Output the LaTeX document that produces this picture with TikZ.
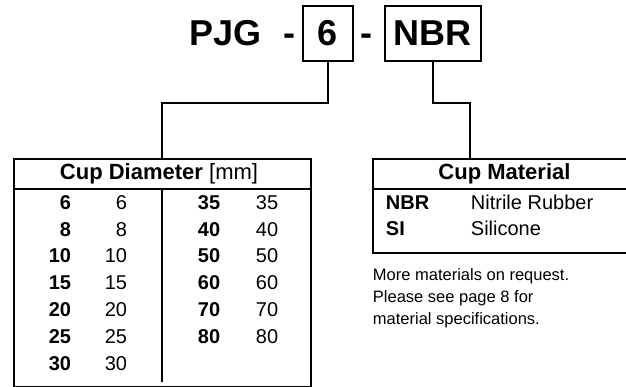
\documentclass[tikz,border=0pt]{standalone}
\usepackage{fontspec}
\setmainfont{Liberation Sans}
\begin{document}
\begin{tikzpicture}[x=1pt,y=-1pt,line width=1.9pt,
  ttl/.style={font=\fontsize{36}{40}\selectfont\bfseries,inner sep=0},
  hdr/.style={font=\fontsize{22}{26}\selectfont\bfseries,anchor=base,inner sep=0},
  bd/.style={font=\fontsize{20}{24}\selectfont\bfseries,inner sep=0},
  rg/.style={font=\fontsize{20}{24}\selectfont,inner sep=0},
  note/.style={font=\fontsize{16.5}{22}\selectfont,anchor=base west,inner sep=0},
  codebox/.style={draw,line width=1.9pt,inner sep=0,anchor=north west,minimum height=55pt,font=\fontsize{36}{40}\selectfont\bfseries},
  frame/.style={draw,line width=1.9pt,inner sep=0,anchor=north west}]
\useasboundingbox (0,0) rectangle (626,387);
% title
\node[ttl,anchor=base west] (pjg) at (188.3,46) {PJG};
\node[ttl,anchor=base] (d1) at (289,46) {-};
\node[ttl,anchor=base] (d2) at (366.5,46) {-};
\node[codebox,minimum width=50pt] (b6) at (301.7,5) {6};
\node[codebox,minimum width=96pt] (bN) at (384,5) {NBR};
% tables
\node[frame,minimum width=297.3pt,minimum height=227.6pt] (tabL) at (12.7,158) {};
\node[frame,minimum width=256pt,minimum height=94pt] (tabR) at (372,158) {};
% connectors
\draw (b6.south) -- ++(0,41) -| (tabL.north);
\draw (bN.south) -- ++(0,41) -| ([xshift=98pt]tabR.north west);
% left table
\draw (tabL.west |- 0,189) -- (tabL.east |- 0,189);
\draw (162,189) -- (162,382);
\node[hdr] (hL) at (159,180) {Cup Diameter {\mdseries [mm]}};
\foreach \a/\i in {6/0,8/1,10/2,15/3,20/4,25/5,30/6}{
  \node[bd,anchor=base east] (lb\i) at (72,209.3+26.8*\i) {\a};
  \node[rg,anchor=base east] (lr\i) at (128,209.3+26.8*\i) {\a};
}
\foreach \a/\i in {35/0,40/1,50/2,60/3,70/4,80/5}{
  \node[bd,anchor=base west] (rb\i) at (197,209.3+26.8*\i) {\a};
  \node[rg,anchor=base west] (rr\i) at (255,209.3+26.8*\i) {\a};
}
% right table
\draw (tabR.west |- 0,189) -- (tabR.east |- 0,189);
\node[hdr] (hR) at (504.5,180) {Cup Material};
\node[bd,anchor=base west] (mN) at (385,209.3) {NBR};
\node[rg,anchor=base west] (mNt) at (470,209.3) {Nitrile Rubber};
\node[bd,anchor=base west] (mS) at (385,236) {SI};
\node[rg,anchor=base west] (mSt) at (470,236) {Silicone};
% note
\node[note] (n1) at (372,280) {More materials on request.};
\node[note] (n2) at (372,302) {Please see page 8 for};
\node[note] (n3) at (372,324) {material specifications.};
\end{tikzpicture}
\end{document}
